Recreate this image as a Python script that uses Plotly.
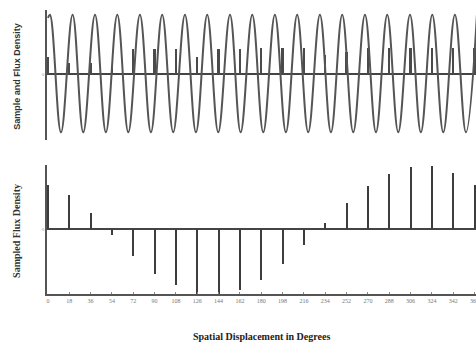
import plotly.graph_objects as go

# ---- data ----
sample_deg = [0, 18, 36, 54, 72, 90, 108, 126, 144, 162, 180, 198, 216, 234,
              252, 270, 288, 306, 324, 342, 360]
tick_labels = [str(v) for v in sample_deg]

# sampled flux density (bottom panel)
sampled_vals = [0.68, 0.53, 0.25, -0.09, -0.41, -0.69, -0.86, -1.0, -1.0, -0.94,
                -0.78, -0.54, -0.24, 0.10, 0.40, 0.66, 0.85, 0.96, 0.98, 0.86, 0.68]

# sample pulses drawn in the top panel
pulse_vals = [0.30, 0.20, 0.20, 0.15, 0.42, 0.42, 0.42, 0.30, 0.42, 0.42,
              0.45, 0.45, 0.45, 0.33, 0.37, 0.45, 0.45, 0.45, 0.45, 0.45, 0.45]

# flux density wave (top panel): start, then alternating peaks / troughs (degrees)
wave_x = [0, 1.7, 11.0, 20.8, 29.8, 39.7, 48.9, 58.5, 67.8, 77.6, 86.9, 96.4,
          105.7, 115.6, 124.9, 134.4, 143.7, 153.6, 162.6, 172.4, 181.7, 191.5,
          200.8, 210.3, 219.6, 229.5, 238.8, 248.3, 257.6, 267.5, 276.8, 286.3,
          295.6, 305.5, 314.7, 324.3, 333.6, 343.4, 352.7, 362.0]
wave_y = [0.95, 1.0, -0.97, 1.0, -0.97, 1.0, -0.97, 1.0, -0.97, 1.0, -0.97, 1.0,
          -0.97, 1.0, -0.97, 1.0, -0.97, 1.0, -0.97, 1.0, -0.97, 1.0,
          -0.97, 1.0, -0.97, 1.0, -0.97, 1.0, -0.97, 1.0, -0.97, 1.0,
          -0.97, 1.0, -0.97, 1.0, -0.97, 1.0, -0.97, 1.0]

top_ylabel = "Sample and Flux Density"
bottom_ylabel = "Sampled Flux Density"
x_label = "Spatial Displacement in Degrees"

# ---- figure ----
fig = go.Figure()

fig.add_trace(go.Scatter(x=wave_x, y=wave_y, mode="lines",
                         line=dict(color="#555555", width=2, shape="spline", smoothing=1.1),
                         xaxis="x", yaxis="y", showlegend=False, hoverinfo="skip"))
fig.add_trace(go.Bar(x=sample_deg, y=pulse_vals, width=2.0,
                     marker=dict(color="#4a4a4a", line=dict(width=0)),
                     xaxis="x", yaxis="y", showlegend=False))
fig.add_trace(go.Bar(x=sample_deg, y=sampled_vals, width=1.7,
                     marker=dict(color="#3d3d3d", line=dict(width=0)),
                     xaxis="x2", yaxis="y2", showlegend=False))

xrange = [-0.8, 361.2]
common_x = dict(range=xrange, showgrid=False, zeroline=False, automargin=False)

fig.update_layout(
    width=476, height=347,
    margin=dict(l=47, r=0, t=10, b=53),
    paper_bgcolor="white", plot_bgcolor="white",
    bargap=0,
    xaxis=dict(**common_x, domain=[0, 1], anchor="y", showticklabels=False,
               showline=False, ticks=""),
    yaxis=dict(domain=[0.542, 1.0], range=[-1.1, 1.08], anchor="x", automargin=False,
               showgrid=False, zeroline=True, zerolinecolor="#444444", zerolinewidth=1.6,
               showline=True, linecolor="#555555", linewidth=1.5,
               tickvals=[0], ticktext=["0"], ticks="",
               tickfont=dict(size=5, color="#999999", family="Liberation Serif")),
    xaxis2=dict(**common_x, domain=[0, 1], anchor="y2",
                showline=True, linecolor="#555555", linewidth=1.5,
                tickvals=sample_deg, ticktext=tick_labels, ticks="inside", ticklen=2,
                tickcolor="#888888", ticklabeloverflow="allow",
                tickfont=dict(size=6, color="#777777", family="Liberation Serif")),
    yaxis2=dict(domain=[0.0, 0.454], range=[-1.0, 0.99], anchor="x2", automargin=False,
                showgrid=False, zeroline=True, zerolinecolor="#444444", zerolinewidth=1.6,
                showline=True, linecolor="#555555", linewidth=1.5,
                tickvals=[0], ticktext=["0"], ticks="",
                tickfont=dict(size=5, color="#999999", family="Liberation Serif")),
    annotations=[
        dict(text=top_ylabel, textangle=-90, xref="paper", yref="paper",
             x=-0.07, y=0.768, xanchor="center", yanchor="middle", showarrow=False,
             font=dict(family="Liberation Sans", size=9, color="#333333", weight="bold")),
        dict(text=bottom_ylabel, textangle=-90, xref="paper", yref="paper",
             x=-0.07, y=0.222, xanchor="center", yanchor="middle", showarrow=False,
             font=dict(family="Liberation Serif", size=10, color="#333333", weight="bold")),
        dict(text=x_label, xref="paper", yref="paper",
             x=0.5, y=-0.148, xanchor="center", yanchor="middle", showarrow=False,
             font=dict(family="Liberation Serif", size=10, color="#222222", weight="bold")),
    ],
)

fig.write_html("out.html", config={"displayModeBar": False},
               post_script="document.body.style.margin='0';document.body.style.overflow='hidden';")
